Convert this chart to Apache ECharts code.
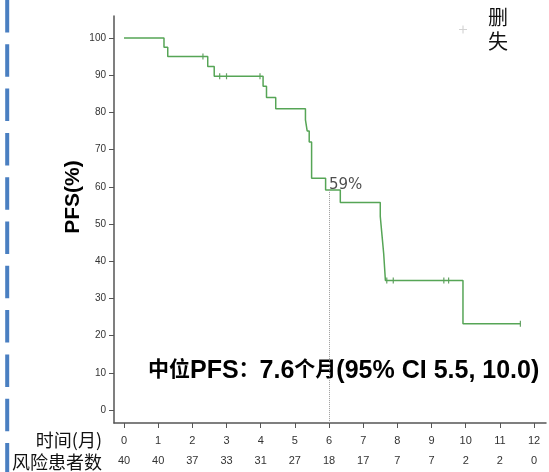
<!DOCTYPE html>
<html>
<head>
<meta charset="utf-8">
<script src="https://cdn.jsdelivr.net/npm/echarts@6/dist/echarts.min.js"></script>
<style>
html,body{margin:0;padding:0;background:#fff;}
#chart{width:549px;height:472px;}
</style>
</head>
<body>
<div id="chart"></div>
<script>
// Kaplan-Meier step points (time in months, PFS %)
const kmTimes = [0, 1.17, 1.28, 2.45, 2.64, 4.07, 4.17, 4.44, 5.31, 5.36, 5.42, 5.49, 5.9, 6.33, 7.5, 7.55, 7.6, 7.65, 9.92, 11.6];
const kmSurv  = [100, 97.5, 95, 92.3, 89.7, 87, 84, 81, 78, 75, 72, 62.3, 59.1, 55.8, 52, 47, 42, 34.8, 23.2, 23.2];
// censored observations
const censorTimes = [2.31, 2.8, 3.0, 3.98, 7.69, 7.88, 9.36, 9.5, 11.6];
const censorSurv  = [95, 89.7, 89.7, 89.7, 34.8, 34.8, 34.8, 34.8, 23.2];
// axis ticks
const xTicks = [0, 1, 2, 3, 4, 5, 6, 7, 8, 9, 10, 11, 12];
const atRisk = [40, 40, 37, 33, 31, 27, 18, 17, 7, 7, 2, 2, 0];
const yTicks = [0, 10, 20, 30, 40, 50, 60, 70, 80, 90, 100];
// landmark
const landmarkTime = 6;
const landmarkSurv = 59.1;
const landmarkLabel = '59%';
const censorName = '删失';

const kmData = kmTimes.map((t, i) => [t, kmSurv[i]]);
const censorData = censorTimes.map((t, i) => [t, censorSurv[i]]);

const latin = '"Liberation Sans", Arial, "Noto Sans CJK SC", sans-serif';
const cjk = '"Noto Sans CJK SC", "Liberation Sans", sans-serif';
const axisColor = '#555';
const green = '#56a556';

const chart = echarts.init(document.getElementById('chart'), null, {renderer: 'canvas'});
chart.setOption({
  animation: false,
  backgroundColor: '#fff',
  grid: {left: 114, right: 3, top: 16, bottom: 49},
  legend: {
    left: 454, top: 0, padding: 5,
    selectedMode: false,
    itemWidth: 40, itemHeight: 8,
    data: [{name: censorName, icon: 'path://M3,0H4V3H7V4H4V7H3V4H0V3H3Z', itemStyle: {color: '#c8c8c8'}}],
    formatter: () => '删\n失',
    textStyle: {fontSize: 20, lineHeight: 24.5, color: '#111', fontFamily: cjk}
  },
  xAxis: {
    type: 'value', min: -0.293, max: 12.35,
    splitLine: {show: false},
    axisLine: {show: true, onZero: false, lineStyle: {color: axisColor, width: 1.5}},
    axisTick: {show: true, length: 5, customValues: xTicks, lineStyle: {color: axisColor}},
    axisLabel: {
      customValues: xTicks, margin: 8, fontSize: 11, lineHeight: 20,
      color: '#333', fontFamily: latin,
      formatter: (v) => v + '\n' + atRisk[xTicks.indexOf(v)]
    }
  },
  yAxis: {
    type: 'value', min: -3.5, max: 105.9,
    splitLine: {show: false},
    axisLine: {show: true, onZero: false, lineStyle: {color: axisColor, width: 1.5}},
    axisTick: {show: true, length: 5, customValues: yTicks, lineStyle: {color: axisColor}},
    axisLabel: {customValues: yTicks, margin: 8, fontSize: 10, color: '#333', fontFamily: latin}
  },
  series: [
    {
      name: 'PFS', type: 'line', step: 'end', data: kmData,
      showSymbol: false, symbol: 'none',
      lineStyle: {color: green, width: 1.5},
      markLine: {
        silent: true, symbol: 'none',
        label: {show: false},
        lineStyle: {color: '#999', type: 'dotted', width: 1},
        data: [[{coord: [landmarkTime, landmarkSurv]}, {coord: [landmarkTime, -3.5]}]]
      }
    },
    {
      name: censorName, type: 'scatter', data: censorData,
      symbol: 'rect', symbolSize: [1.2, 6],
      itemStyle: {color: '#3f8a3f'}
    },
    {
      name: 'landmark', type: 'scatter', data: [[landmarkTime, landmarkSurv]],
      symbolSize: 0, silent: true,
      label: {
        show: true, position: 'right', distance: 0, offset: [0, -5],
        formatter: landmarkLabel, fontSize: 15, color: '#222',
        fontFamily: '"DejaVu Sans", sans-serif'
      }
    }
  ],
  graphic: [
    {type: 'line', shape: {x1: 7.2, y1: 0, x2: 7.2, y2: 472}, silent: true,
     style: {stroke: '#4a7fc1', lineWidth: 4, lineDash: [32.5, 11.8]}},
    {type: 'text', x: 73, y: 197, rotation: Math.PI / 2,
     style: {text: 'PFS(%)', align: 'center', verticalAlign: 'middle', fill: '#000',
             font: 'bold 21px "Liberation Sans", Arial, sans-serif'}},
    {type: 'text', x: 102, y: 440.5,
     style: {text: '时间(月)', align: 'right', verticalAlign: 'middle', fill: '#111',
             font: '18px "Noto Sans CJK SC", sans-serif'}},
    {type: 'text', x: 102, y: 462.5,
     style: {text: '风险患者数', align: 'right', verticalAlign: 'middle', fill: '#111',
             font: '18px "Noto Sans CJK SC", sans-serif'}},
    {type: 'text', x: 148, y: 371,
     style: {
       text: '{c|中位}{l|PFS}{c|：}{l|7.6}{c|个月}{l|(95% CI 5.5, 10.0)}',
       align: 'left', verticalAlign: 'middle',
       rich: {
         c: {fontSize: 21, fontWeight: 'bold', fill: '#000', fontFamily: cjk, verticalAlign: 'middle', lineHeight: 26, padding: [0, 0, 5, 0]},
         l: {fontSize: 25, fontWeight: 'bold', fill: '#000', fontFamily: latin, verticalAlign: 'middle', lineHeight: 26}
       }
     }}
  ]
});
</script>
</body>
</html>
